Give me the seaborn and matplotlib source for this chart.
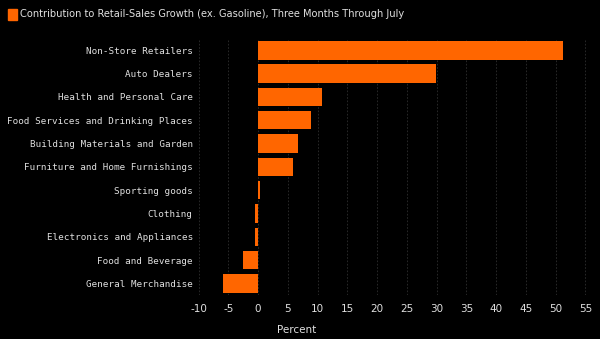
import matplotlib
matplotlib.use("Agg")
import matplotlib.pyplot as plt
import seaborn as sns
import pandas as pd
import numpy as np

categories = ["Non-Store Retailers", "Auto Dealers", "Health and Personal Care",
              "Food Services and Drinking Places", "Building Materials and Garden",
              "Furniture and Home Furnishings", "Sporting goods", "Clothing",
              "Electronics and Appliances", "Food and Beverage", "General Merchandise"]
values = [51.2, 29.9, 10.8, 8.9, 6.7, 5.9, 0.4, -0.5, -0.6, -2.5, -5.9]
xticks = [-10, -5, 0, 5, 10, 15, 20, 25, 30, 35, 40, 45, 50, 55]

df = pd.DataFrame({"category": categories, "value": values})

sns.set_style("dark")
orange = "#ff6600"
txt = "#e0e0e0"

fig = plt.figure(figsize=(6, 3.39), dpi=100, facecolor="black")
ax = fig.add_axes([0.326, 0.1298, 0.6595, 0.756])
ax.set_facecolor("black")

sns.barplot(data=df, y="category", x="value", orient="h", color=orange,
            saturation=1, width=0.79, linewidth=0, ax=ax)

ax.set_xlim(-10.5, 56)
ax.set_ylim(10.5, -0.5)
ax.set_xticks(xticks)
ax.set_xticklabels([str(t) for t in xticks], color=txt, fontsize=7.5, family="DejaVu Sans")
ax.set_yticks(range(len(categories)))
ax.set_yticklabels(categories, color=txt, fontsize=6.7, family="DejaVu Sans Mono")
ax.tick_params(length=0)
ax.tick_params(axis="x", pad=6.5)
ax.tick_params(axis="y", pad=2)
ax.set_xlabel("")
ax.set_ylabel("")
for s in ax.spines.values():
    s.set_visible(False)
ax.grid(False)
for t in xticks:
    ax.axvline(t, color="#2e2e2e", lw=0.6, ls=(0, (2, 2)), zorder=0)

fig.text(297 / 600, 1 - 330 / 339, "Percent", color=txt, fontsize=7.5,
         ha="center", va="center")
fig.patches.append(plt.Rectangle((8 / 600, 1 - 20 / 339), 9 / 600, 11 / 339,
                                 transform=fig.transFigure, color=orange, figure=fig))
fig.text(20 / 600, 1 - 14 / 339,
         "Contribution to Retail-Sales Growth (ex. Gasoline), Three Months Through July",
         color=txt, fontsize=7.1, ha="left", va="center")

fig.savefig("out.png", dpi=100, facecolor="black")
